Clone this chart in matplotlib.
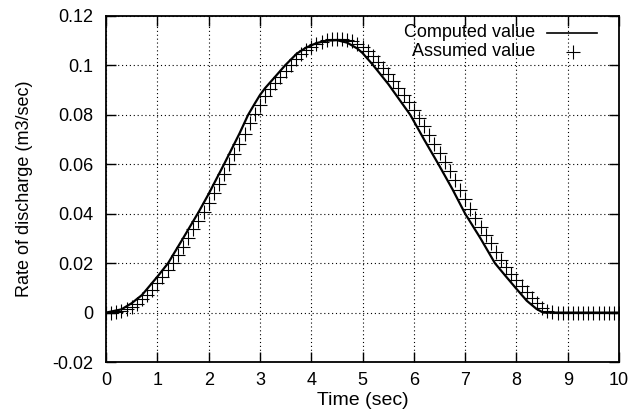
import matplotlib
matplotlib.use('Agg')
import matplotlib.pyplot as plt
import numpy as np

plt.rcParams['font.family'] = ['Liberation Sans', 'DejaVu Sans']
plt.rcParams['font.size'] = 13

# Computed discharge curve (sec, m3/sec)
t_computed = [0.0, 0.3, 0.5, 0.7, 1.0, 1.21, 1.5, 1.8, 2.0, 2.3, 2.6, 2.77,
              2.9, 3.0, 3.1, 3.3, 3.49, 3.72, 3.9, 4.1, 4.3, 4.5, 4.7, 4.9,
              5.0, 5.21, 5.5, 5.93, 6.2, 6.48, 6.75, 7.0, 7.3, 7.58, 7.78,
              8.0, 8.2, 8.39, 8.52, 10.0]
q_computed = [0.0, 0.0013, 0.0038, 0.0071, 0.0145, 0.020, 0.030, 0.0405,
              0.048, 0.060, 0.0724, 0.080, 0.0846, 0.088, 0.0908, 0.0955,
              0.100, 0.1048, 0.1072, 0.109, 0.1100, 0.1102, 0.1092, 0.1068,
              0.1050, 0.100, 0.0925, 0.080, 0.070, 0.060, 0.050, 0.040, 0.030,
              0.020, 0.015, 0.0096, 0.0048, 0.0015, 0.0, 0.0]

# Assumed discharge, sampled every 0.1 sec
t_assumed = [round(0.1 * i, 1) for i in range(101)]
q_assumed = [
    0.0000, 0.0000, 0.0002, 0.0006, 0.0013, 0.0022, 0.0036, 0.0053, 0.0071, 0.0093,
    0.0118, 0.0145, 0.0172, 0.0200, 0.0232, 0.0266, 0.0302, 0.0337, 0.0372, 0.0405,
    0.0443, 0.0482, 0.0521, 0.0560, 0.0600, 0.0640, 0.0682, 0.0724, 0.0766, 0.0805,
    0.0840, 0.0875, 0.0903, 0.0930, 0.0954, 0.0978, 0.1001, 0.1024, 0.1045, 0.1062,
    0.1075, 0.1086, 0.1095, 0.1102, 0.1106, 0.1108, 0.1107, 0.1103, 0.1097, 0.1087,
    0.1075, 0.1058, 0.1038, 0.1015, 0.0990, 0.0964, 0.0937, 0.0909, 0.0880, 0.0850,
    0.0819, 0.0787, 0.0753, 0.0718, 0.0683, 0.0647, 0.0611, 0.0574, 0.0536, 0.0497,
    0.0458, 0.0420, 0.0383, 0.0348, 0.0314, 0.0280, 0.0247, 0.0214, 0.0184, 0.0157,
    0.0132, 0.0108, 0.0084, 0.0060, 0.0038, 0.0020, 0.0008, 0.0002, 0.0000, 0.0000,
    0.0000, 0.0000, 0.0000, 0.0000, 0.0000, 0.0000, 0.0000, 0.0000, 0.0000, 0.0000,
    0.0000,
]

x_ticks = np.arange(0, 11, 1)
y_ticks = [-0.02, 0, 0.02, 0.04, 0.06, 0.08, 0.1, 0.12]
y_ticklabels = ['-0.02', '0', '0.02', '0.04', '0.06', '0.08', '0.1', '0.12']

fig = plt.figure(figsize=(6.33, 4.2), dpi=100)
ax = fig.add_axes([0.1675, 0.138, 0.8105, 0.824])

ax.plot(t_computed, q_computed, color='black', linewidth=1.6, zorder=3)
ax.plot(t_assumed, q_assumed, linestyle='none', marker='+', markersize=9.5,
        markeredgewidth=0.8, color='black', zorder=4)

ax.set_xlim(0, 10)
ax.set_ylim(-0.02, 0.12)
ax.set_xticks(x_ticks)
ax.set_yticks(y_ticks)
ax.set_yticklabels(y_ticklabels)
ax.tick_params(direction='in', length=7, width=1, top=True, right=True)
ax.tick_params(axis='x', pad=7)
ax.tick_params(axis='y', pad=9)
for s in ax.spines.values():
    s.set_linewidth(1.3)

ax.grid(True, color='black', linestyle=(0, (1, 2.5)), linewidth=0.8)
ax.set_axisbelow(True)

ax.set_xlabel('Time (sec)', fontsize=14, labelpad=2)
ax.set_ylabel('Rate of discharge (m3/sec)', labelpad=14)

# gnuplot-style key: right-aligned text with sample to its right
ax.text(0.836, 0.951, 'Computed value', transform=ax.transAxes,
        ha='right', va='center')
ax.plot([0.860, 0.957], [0.951, 0.951], transform=ax.transAxes,
        color='black', linewidth=1.2, clip_on=False)
ax.text(0.836, 0.896, 'Assumed value', transform=ax.transAxes,
        ha='right', va='center')
ax.plot([0.910], [0.896], transform=ax.transAxes, marker='+', markersize=9.5,
        markeredgewidth=0.8, color='black', clip_on=False)

fig.savefig('out.png', dpi=100)
